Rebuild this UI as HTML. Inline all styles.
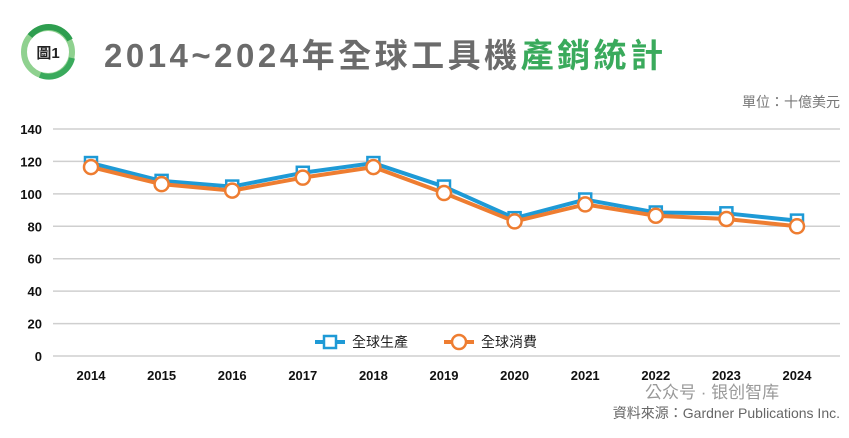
<!DOCTYPE html>
<html><head><meta charset="utf-8"><style>
body{margin:0;width:849px;height:433px;background:#fff;overflow:hidden;font-family:"Liberation Sans","Noto Sans CJK TC",sans-serif}
</style></head><body>
<svg width="849" height="433">
<g>
<circle cx="48" cy="52" r="24" fill="none" stroke="#8fd18f" stroke-width="6"/>
<path d="M30 36 A24 24 0 0 1 70 40" fill="none" stroke="#2e9e4f" stroke-width="6"/>
<path d="M72 58 A24 24 0 0 1 40 75" fill="none" stroke="#3aaa5c" stroke-width="6"/>
<circle cx="48" cy="52" r="20" fill="#fff"/>
<text x="48" y="58" font-size="15" font-weight="bold" text-anchor="middle" fill="#222">圖1</text>
</g>
<text x="104" y="67" font-size="33" font-weight="bold" letter-spacing="3.5" fill="#6b6b6b">2014~2024年全球工具機<tspan fill="#3aaa5c">產銷統計</tspan></text>
<text x="840" y="107" font-size="14" text-anchor="end" fill="#777">單位：十億美元</text>
<g id="grid"></g><g id="axes"></g><g id="series"></g>
<g>
<line x1="315" y1="342" x2="345" y2="342" stroke="#1e9ad6" stroke-width="4"/>
<rect x="324" y="336" width="12" height="12" fill="#fff" stroke="#1e9ad6" stroke-width="2.5"/>
<text x="352" y="347" font-size="14" fill="#222">全球生產</text>
<line x1="444" y1="342" x2="474" y2="342" stroke="#ee7d31" stroke-width="4"/>
<circle cx="459" cy="342" r="7" fill="#fff" stroke="#ee7d31" stroke-width="2.5"/>
<text x="481" y="347" font-size="14" fill="#222">全球消費</text>
</g>
<text x="645" y="398" font-size="17" fill="#999">公众号 · 银创智库</text>
<text x="840" y="418" font-size="14" text-anchor="end" fill="#666">資料來源：Gardner Publications Inc.</text>
</svg>
<script>
const years=["2014","2015","2016","2017","2018","2019","2020","2021","2022","2023","2024"];
const production=[119,108,104.5,113,119,104.5,85,96.5,88.5,88,83.5];
const consumption=[116.5,106,102,110,116.5,100.5,83,93.5,86.5,84.5,80];
const yTicks=[0,20,40,60,80,100,120,140];
const NS="http://www.w3.org/2000/svg";
const y=v=>356-v*(227/140);
const x=i=>91+i*70.6;
function mk(t,a,p){const e=document.createElementNS(NS,t);for(const k in a)e.setAttribute(k,a[k]);p.appendChild(e);return e;}
const grid=document.getElementById('grid'),axes=document.getElementById('axes'),ser=document.getElementById('series');
yTicks.forEach(v=>{
 const l=mk('line',{x1:53,x2:840,y1:y(v),y2:y(v),stroke:'#cfcfcf','stroke-width':1.5},grid);
 
 
 const t=mk('text',{x:42,y:y(v)+5,'font-size':13,'font-weight':'bold','text-anchor':'end',fill:'#111'},axes);
 t.textContent=v;
 
 
});
years.forEach((yr,i)=>{
 const t=mk('text',{x:x(i),y:380,'font-size':13,'font-weight':'bold','text-anchor':'middle',fill:'#111'},axes);
 t.textContent=yr;
 
 
});
function series(vals,col,square,name){
 const p=mk('polyline',{points:vals.map((v,i)=>x(i)+','+y(v)).join(' '),fill:'none',stroke:col,'stroke-width':4,'stroke-linejoin':'round'},ser);
 
 
 vals.forEach((v,i)=>{
  let m;
  if(square)m=mk('rect',{x:x(i)-6,y:y(v)-6,width:12,height:12,fill:'#fff',stroke:col,'stroke-width':2.5},ser);
  else m=mk('circle',{cx:x(i),cy:y(v),r:7,fill:'#fff',stroke:col,'stroke-width':2.5},ser);
  
  
 });
}
series(production,'#1e9ad6',true,'production');
series(consumption,'#ee7d31',false,'consumption');
</script>
</body></html>
